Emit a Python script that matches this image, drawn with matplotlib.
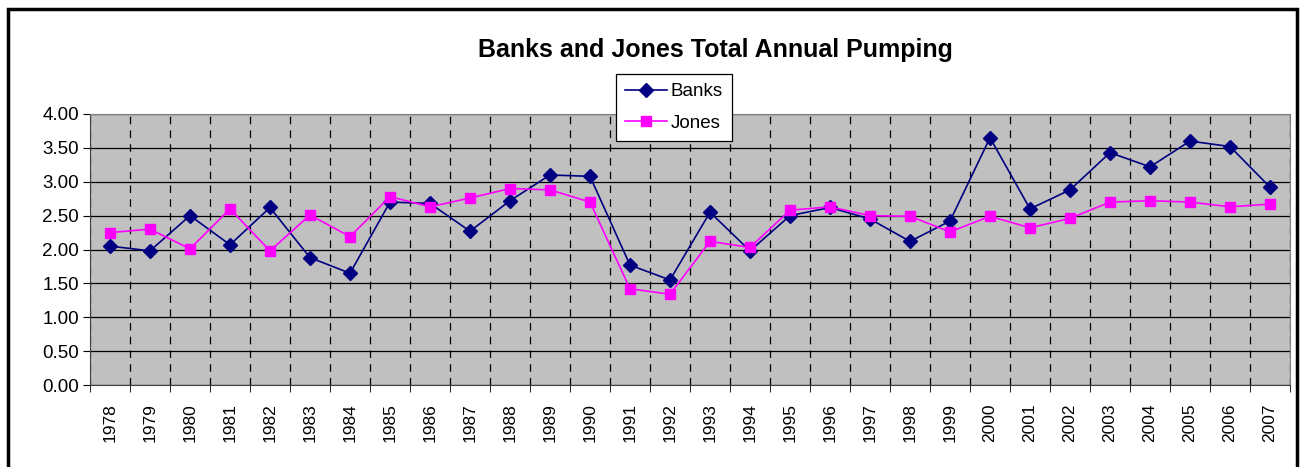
import numpy as np
import matplotlib.pyplot as plt
from matplotlib.patches import Rectangle

plt.rcParams['font.family'] = ['Liberation Sans', 'DejaVu Sans']

years = [str(y) for y in range(1978, 2008)]
banks = [2.05, 1.98, 2.50, 2.07, 2.62, 1.88, 1.65, 2.70, 2.68, 2.27,
         2.72, 3.10, 3.08, 1.77, 1.55, 2.55, 1.98, 2.50, 2.62, 2.45,
         2.12, 2.42, 3.65, 2.60, 2.88, 3.43, 3.22, 3.60, 3.52, 2.92]
jones = [2.25, 2.30, 2.01, 2.60, 1.98, 2.51, 2.19, 2.78, 2.63, 2.76,
         2.90, 2.88, 2.70, 1.42, 1.34, 2.12, 2.03, 2.58, 2.63, 2.50,
         2.49, 2.26, 2.49, 2.32, 2.46, 2.70, 2.72, 2.70, 2.63, 2.67]

fig = plt.figure(figsize=(13.04, 4.67), dpi=100)
ax = fig.add_axes([90/1304, 1-385/467, 1200/1304, 271/467])
ax.set_facecolor('#C0C0C0')

x = np.arange(len(years))
ax.plot(x, banks, color='#000080', marker='D', markersize=7, lw=1.2, label='Banks', zorder=3)
ax.plot(x, jones, color='#FF00FF', marker='s', markersize=7, lw=1.2, label='Jones', zorder=3)

ax.set_xlim(-0.5, len(years)-0.5)
ax.set_ylim(0, 4)
ax.set_yticks(np.arange(0, 4.01, 0.5))
ax.set_yticklabels(['%.2f' % v for v in np.arange(0, 4.01, 0.5)], fontsize=13.5)
ax.set_xticks(x)
ax.set_xticklabels(years, rotation=90, fontsize=12.5)
ax.tick_params(axis='x', length=0, pad=13)
ax.set_xticks(np.arange(-0.5, len(years)), minor=True)
ax.tick_params(axis='x', which='minor', length=5, direction='out', color='black')
ax.tick_params(axis='y', length=5, direction='out', color='black', pad=3)

ax.grid(axis='y', color='black', lw=0.9, ls='-')
ax.grid(axis='x', which='minor', color='black', lw=0.9, ls=(0, (6, 5)))
ax.set_axisbelow(True)
for s in ['top', 'right']:
    ax.spines[s].set_color('#808080')
for s in ['left', 'bottom']:
    ax.spines[s].set_color('#404040')

fig.text(715/1304, 1-50/467, 'Banks and Jones Total Annual Pumping', ha='center', va='center',
         fontsize=18, fontweight='bold')

leg = fig.legend(loc='upper left', bbox_to_anchor=(616/1304, 1-74/467), fontsize=13.5,
                 fancybox=False, edgecolor='black', framealpha=1, borderpad=0.5,
                 handlelength=2.2, labelspacing=0.75, handletextpad=0.2, borderaxespad=0)
leg.get_frame().set_linewidth(0.9)

fig.patches.append(Rectangle((8/1304, -0.05), 1289/1304, 1.05 - 9/467, transform=fig.transFigure,
                             fill=False, edgecolor='black', lw=2.5))

fig.savefig('out.png', dpi=100)
